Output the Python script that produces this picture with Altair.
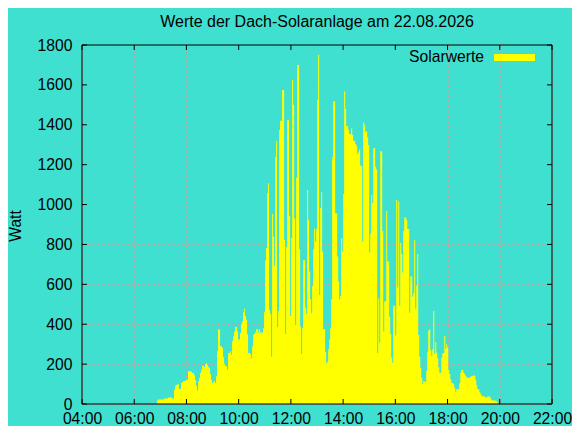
import altair as alt
import pandas as pd

# ---------------- data ----------------
TITLE = "Werte der Dach-Solaranlage am 22.08.2026"
SERIES = ["Solarwerte"]
Y_TITLE = "Watt"
DAY = "2026-08-22"
START = "06:52:20"          # first reading
STEP_SECONDS = 138           # reading interval

WATT = [
    17, 22, 22, 22, 22, 22, 22, 27, 27, 27,
    27, 32, 32, 32, 32, 27, 27, 72, 92, 95,
    99, 99, 75, 75, 105, 110, 114, 115, 115, 122,
    122, 164, 164, 164, 160, 155, 155, 144, 120, 90,
    67, 114, 130, 155, 169, 192, 192, 186, 200, 206,
    195, 185, 181, 150, 122, 105, 110, 117, 105, 139,
    264, 373, 373, 289, 289, 281, 234, 200, 189, 189,
    172, 256, 256, 264, 247, 314, 340, 364, 386, 386,
    364, 323, 323, 356, 400, 415, 460, 477, 440, 423,
    348, 256, 256, 251, 229, 288, 346, 354, 358, 375,
    375, 358, 375, 358, 358, 358, 380, 463, 719, 782,
    1057, 1107, 471, 451, 237, 953, 839, 692, 1237, 1319,
    385, 466, 1374, 1420, 1420, 1575, 1575, 823, 351, 789,
    1425, 1425, 943, 441, 834, 1625, 1500, 931, 396, 1135,
    1700, 1700, 776, 388, 251, 380, 722, 722, 483, 451,
    1073, 923, 664, 525, 455, 592, 776, 881, 814, 878,
    1525, 1751, 547, 981, 1063, 764, 375, 375, 262, 204,
    212, 276, 324, 380, 525, 1237, 1517, 1517, 956, 956,
    739, 614, 525, 542, 831, 764, 1053, 1567, 1478, 1394,
    1394, 1374, 1354, 1354, 1383, 1349, 1319, 1319, 1303, 1294,
    1254, 1266, 1277, 1194, 1194, 814, 1413, 1399, 1366, 1366,
    1336, 1299, 759, 853, 1048, 1007, 1282, 1282, 1190, 1174,
    254, 530, 308, 1269, 1266, 868, 363, 513, 517, 968,
    714, 714, 438, 351, 232, 207, 492, 492, 343, 1023,
    584, 1015, 493, 809, 752, 659, 868, 935, 935, 923,
    878, 878, 458, 639, 639, 538, 555, 823, 478, 594,
    752, 346, 237, 182, 132, 99, 115, 112, 112, 166,
    262, 368, 375, 271, 241, 274, 466, 251, 309, 257,
    229, 184, 157, 157, 232, 254, 254, 341, 276, 299,
    283, 171, 150, 124, 107, 104, 99, 82, 62, 74,
    74, 74, 104, 157, 171, 171, 157, 150, 140, 132,
    132, 132, 132, 137, 140, 140, 145, 140, 120, 95,
    74, 74, 62, 50, 40, 40, 37, 37, 33, 33,
    37, 37, 37, 28, 20, 17, 17, 17, 17, 12,
    8, 8,
]

Y_TICKS = [0, 200, 400, 600, 800, 1000, 1200, 1400, 1600, 1800]
X_TICK_HOURS = [4, 6, 8, 10, 12, 14, 16, 18, 20, 22]

# ---------------- styling ----------------
W, H = 470, 359
BG = "#40E0D0"
FILL = "#FFFF00"
GRID = "#d49a9a"
FONT = "Liberation Sans"
FS = 15.7
FS_TITLE = 16
TICK_LEN = 5

times = pd.date_range(pd.Timestamp(f"{DAY} {START}"), periods=len(WATT),
                      freq=f"{STEP_SECONDS}s")
df = pd.DataFrame({"time": times, "watt": WATT})
df_xt = pd.DataFrame({"time": [pd.Timestamp(f"{DAY} {h:02d}:00") for h in X_TICK_HOURS]})
df_yt = pd.DataFrame({"watt": Y_TICKS})
df_leg = pd.DataFrame({"name": SERIES})

y_, m_, d_ = [int(p) for p in DAY.split("-")]
x_dom = [alt.DateTime(year=y_, month=m_, date=d_, hours=X_TICK_HOURS[0]),
         alt.DateTime(year=y_, month=m_, date=d_, hours=X_TICK_HOURS[-1])]
x_vals = [alt.DateTime(year=y_, month=m_, date=d_, hours=h) for h in X_TICK_HOURS]

x_scale = alt.Scale(domain=x_dom)
y_scale = alt.Scale(domain=[Y_TICKS[0], Y_TICKS[-1]], nice=False)

x_axis = alt.Axis(values=x_vals, format="%H:%M", title=None, labelPadding=7, grid=True,
                  labelOverlap=False, labelFlush=False)
y_axis = alt.Axis(values=Y_TICKS, format="d", title=Y_TITLE, labelPadding=10, grid=True,
                  labelOverlap=False, labelFlush=False,
                  titleX=-62, titleY=180.5, titleAngle=270,
                  titleAlign="center", titleBaseline="alphabetic")

area = alt.Chart(df).mark_area(interpolate="step-after", color=FILL, opacity=1).encode(
    x=alt.X("time:T", scale=x_scale, axis=x_axis),
    y=alt.Y("watt:Q", scale=y_scale, axis=y_axis),
)

yt_left = alt.Chart(df_yt).mark_rule(color="black", strokeWidth=1).encode(
    y=alt.Y("watt:Q", scale=y_scale, axis=y_axis),
    x=alt.value(0), x2=alt.value(TICK_LEN))
yt_right = alt.Chart(df_yt).mark_rule(color="black", strokeWidth=1).encode(
    y=alt.Y("watt:Q", scale=y_scale, axis=y_axis),
    x=alt.value(W - TICK_LEN), x2=alt.value(W))
xt_bottom = alt.Chart(df_xt).mark_rule(color="black", strokeWidth=1).encode(
    x=alt.X("time:T", scale=x_scale, axis=x_axis),
    y=alt.value(H - TICK_LEN), y2=alt.value(H))
xt_top = alt.Chart(df_xt).mark_rule(color="black", strokeWidth=1).encode(
    x=alt.X("time:T", scale=x_scale, axis=x_axis),
    y=alt.value(0), y2=alt.value(TICK_LEN))

frame = alt.Chart(df_leg).mark_rect(filled=False, stroke="black", strokeWidth=1).encode(
    x=alt.value(0), x2=alt.value(W), y=alt.value(0), y2=alt.value(H))

leg_text = alt.Chart(df_leg).mark_text(
    align="right", baseline="alphabetic", font=FONT, fontSize=FS, color="black"
).encode(text="name:N", x=alt.value(402), y=alt.value(16.5))
leg_sw = alt.Chart(df_leg).mark_rule(color=FILL, strokeWidth=7).encode(
    x=alt.value(412), x2=alt.value(453), y=alt.value(12.5))

chart = alt.layer(area, yt_left, yt_right, xt_bottom, xt_top, frame, leg_text, leg_sw).properties(
    width=W, height=H,
    autosize=alt.AutoSizeParams(type="none"),
    padding={"left": 74, "top": 37, "right": 20, "bottom": 22},
    title=alt.TitleParams(TITLE, font=FONT, fontSize=FS_TITLE, fontWeight="normal",
                          color="black", anchor="middle", baseline="alphabetic",
                          offset=-6),
).configure(background=BG).configure_view(
    stroke=None
).configure_axis(
    labelFont=FONT, labelFontSize=FS, labelColor="black",
    titleFont=FONT, titleFontSize=FS, titleFontWeight="normal", titleColor="black",
    domain=False, ticks=False,
    gridColor=GRID, gridDash=[2, 3], gridWidth=1, gridOpacity=1,
)

chart.save("out.html", embed_options={"renderer": "svg", "actions": False})
